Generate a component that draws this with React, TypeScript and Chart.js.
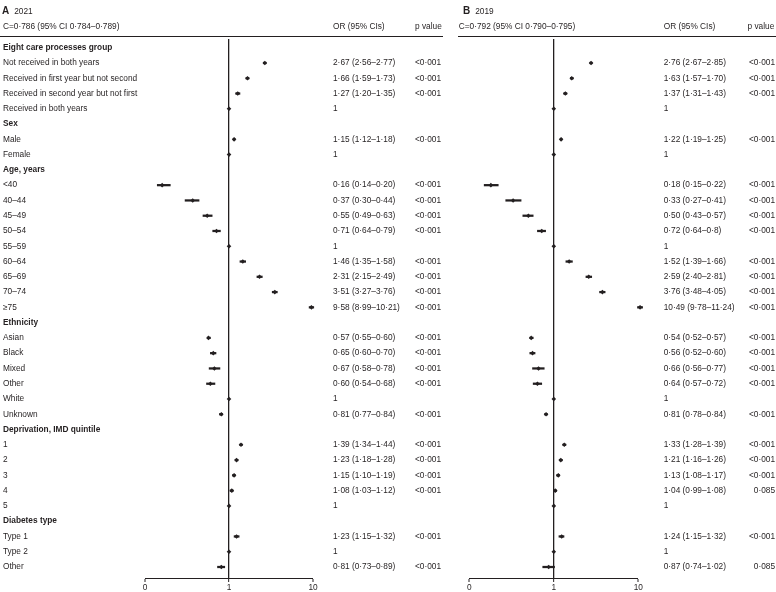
import React, { useEffect, useRef } from 'react';
import { Chart, registerables } from 'chart.js';

Chart.register(...registerables);

const FONT_FAMILY = "'Liberation Sans', Arial, sans-serif";
const FONT_SIZE = 8.3;
const INK = '#231f20';

const rowLabels = [
  'Eight care processes group',
  'Not received in both years',
  'Received in first year but not second',
  'Received in second year but not first',
  'Received in both years',
  'Sex',
  'Male',
  'Female',
  'Age, years',
  '<40',
  '40–44',
  '45–49',
  '50–54',
  '55–59',
  '60–64',
  '65–69',
  '70–74',
  '≥75',
  'Ethnicity',
  'Asian',
  'Black',
  'Mixed',
  'Other',
  'White',
  'Unknown',
  'Deprivation, IMD quintile',
  '1',
  '2',
  '3',
  '4',
  '5',
  'Diabetes type',
  'Type 1',
  'Type 2',
  'Other',
];

const headerRows = [0, 5, 8, 18, 25, 31];

// 2021 (panel A)
const or2021 = [null, 2.67, 1.66, 1.27, 1, null, 1.15, 1, null, 0.16, 0.37, 0.55, 0.71, 1, 1.46, 2.31, 3.51, 9.58, null, 0.57, 0.65, 0.67, 0.60, 1, 0.81, null, 1.39, 1.23, 1.15, 1.08, 1, null, 1.23, 1, 0.81];
const lo2021 = [null, 2.56, 1.59, 1.20, null, null, 1.12, null, null, 0.14, 0.30, 0.49, 0.64, null, 1.35, 2.15, 3.27, 8.99, null, 0.55, 0.60, 0.58, 0.54, null, 0.77, null, 1.34, 1.18, 1.10, 1.03, null, null, 1.15, null, 0.73];
const hi2021 = [null, 2.77, 1.73, 1.35, null, null, 1.18, null, null, 0.20, 0.44, 0.63, 0.79, null, 1.58, 2.49, 3.76, 10.21, null, 0.60, 0.70, 0.78, 0.68, null, 0.84, null, 1.44, 1.28, 1.19, 1.12, null, null, 1.32, null, 0.89];
const orText2021 = ['', '2·67 (2·56–2·77)', '1·66 (1·59–1·73)', '1·27 (1·20–1·35)', '1', '', '1·15 (1·12–1·18)', '1', '', '0·16 (0·14–0·20)', '0·37 (0·30–0·44)', '0·55 (0·49–0·63)', '0·71 (0·64–0·79)', '1', '1·46 (1·35–1·58)', '2·31 (2·15–2·49)', '3·51 (3·27–3·76)', '9·58 (8·99–10·21)', '', '0·57 (0·55–0·60)', '0·65 (0·60–0·70)', '0·67 (0·58–0·78)', '0·60 (0·54–0·68)', '1', '0·81 (0·77–0·84)', '', '1·39 (1·34–1·44)', '1·23 (1·18–1·28)', '1·15 (1·10–1·19)', '1·08 (1·03–1·12)', '1', '', '1·23 (1·15–1·32)', '1', '0·81 (0·73–0·89)'];
const pText2021 = ['', '<0·001', '<0·001', '<0·001', '', '', '<0·001', '', '', '<0·001', '<0·001', '<0·001', '<0·001', '', '<0·001', '<0·001', '<0·001', '<0·001', '', '<0·001', '<0·001', '<0·001', '<0·001', '', '<0·001', '', '<0·001', '<0·001', '<0·001', '<0·001', '', '', '<0·001', '', '<0·001'];

// 2019 (panel B)
const or2019 = [null, 2.76, 1.63, 1.37, 1, null, 1.22, 1, null, 0.18, 0.33, 0.50, 0.72, 1, 1.52, 2.59, 3.76, 10.49, null, 0.54, 0.56, 0.66, 0.64, 1, 0.81, null, 1.33, 1.21, 1.13, 1.04, 1, null, 1.24, 1, 0.87];
const lo2019 = [null, 2.67, 1.57, 1.31, null, null, 1.19, null, null, 0.15, 0.27, 0.43, 0.64, null, 1.39, 2.40, 3.48, 9.78, null, 0.52, 0.52, 0.56, 0.57, null, 0.78, null, 1.28, 1.16, 1.08, 0.99, null, null, 1.15, null, 0.74];
const hi2019 = [null, 2.85, 1.70, 1.43, null, null, 1.25, null, null, 0.22, 0.41, 0.57, 0.8, null, 1.66, 2.81, 4.05, 11.24, null, 0.57, 0.60, 0.77, 0.72, null, 0.84, null, 1.39, 1.26, 1.17, 1.08, null, null, 1.32, null, 1.02];
const orText2019 = ['', '2·76 (2·67–2·85)', '1·63 (1·57–1·70)', '1·37 (1·31–1·43)', '1', '', '1·22 (1·19–1·25)', '1', '', '0·18 (0·15–0·22)', '0·33 (0·27–0·41)', '0·50 (0·43–0·57)', '0·72 (0·64–0·8)', '1', '1·52 (1·39–1·66)', '2·59 (2·40–2·81)', '3·76 (3·48–4·05)', '10·49 (9·78–11·24)', '', '0·54 (0·52–0·57)', '0·56 (0·52–0·60)', '0·66 (0·56–0·77)', '0·64 (0·57–0·72)', '1', '0·81 (0·78–0·84)', '', '1·33 (1·28–1·39)', '1·21 (1·16–1·26)', '1·13 (1·08–1·17)', '1·04 (0·99–1·08)', '1', '', '1·24 (1·15–1·32)', '1', '0·87 (0·74–1·02)'];
const pText2019 = ['', '<0·001', '<0·001', '<0·001', '', '', '<0·001', '', '', '<0·001', '<0·001', '<0·001', '<0·001', '', '<0·001', '<0·001', '<0·001', '<0·001', '', '<0·001', '<0·001', '<0·001', '<0·001', '', '<0·001', '', '<0·001', '<0·001', '<0·001', '0·085', '', '', '<0·001', '', '0·085'];

const xTickValues = [0.1, 1, 10];
const xTickLabels = ['0', '1', '10'];

type PanelSpec = {
  letter: string;
  year: string;
  cText: string;
  or: (number | null)[];
  lo: (number | null)[];
  hi: (number | null)[];
  orText: string[];
  pText: string[];
  showLabels: boolean;
  canvasWidth: number;
  padLeft: number;
  padRight: number;
  yWidth: number;
  orWidth: number;
  orPad: number;
  pWidth: number;
  pAlign: 'near' | 'far';
  letterX: number;
  textX: number;
  ruleStart: number;
  ruleEnd: number;
};

const Y_MIN = -0.57;
const Y_MAX = 34.72;

const font = (bold = false) => ({ family: FONT_FAMILY, size: FONT_SIZE, weight: bold ? 'bold' : 'normal' } as any);

const headerPlugin = {
  id: 'panelHeader',
  afterDraw(chart: any, _args: any, opts: any) {
    const ctx = chart.ctx;
    ctx.save();
    ctx.fillStyle = INK;
    ctx.textBaseline = 'middle';
    ctx.textAlign = 'left';
    ctx.font = `bold ${FONT_SIZE + 1.7}px ${FONT_FAMILY}`;
    ctx.fillText(opts.letter, opts.letterX, 11);
    const lw = ctx.measureText(opts.letter).width;
    ctx.font = `${FONT_SIZE}px ${FONT_FAMILY}`;
    ctx.fillText(opts.year, opts.letterX + lw + 5, 11.5);
    ctx.fillText(opts.cText, opts.textX, 27);
    const orScale = chart.scales.yOR;
    const pScale = chart.scales.yP;
    ctx.fillText('OR (95% CIs)', orScale.left + opts.orPad, 27);
    ctx.fillText('p value', pScale.left + opts.pHeadPad, 27);
    ctx.strokeStyle = INK;
    ctx.lineWidth = 1;
    ctx.beginPath();
    ctx.moveTo(opts.ruleStart, 36.5);
    ctx.lineTo(opts.ruleEnd, 36.5);
    ctx.stroke();
    ctx.restore();
  },
};

function buildConfig(p: PanelSpec): any {
  const rowTicks = (scale: any) => {
    scale.ticks = rowLabels.map((_, i) => ({ value: i }));
  };
  const noVerticalPadding = (s: any) => {
    s.paddingTop = 0;
    s.paddingBottom = 0;
  };
  const points = p.or
    .map((v, i) => (v == null ? null : { x: v, y: i }))
    .filter((d) => d !== null);
  const bars = p.lo
    .map((v, i) => (v == null || p.hi[i] == null ? null : { x: [v, p.hi[i]], y: i }))
    .filter((d) => d !== null);
  const sideAxis = (texts: string[], width: number, pad: number, align: 'near' | 'far', weight: number) => ({
    type: 'linear',
    position: 'right',
    weight,
    min: Y_MIN,
    max: Y_MAX,
    reverse: true,
    offset: false,
    grid: { display: false, drawTicks: false, offset: false },
    border: { display: false },
    afterBuildTicks: rowTicks,
    afterFit: (s: any) => {
      s.width = width;
      noVerticalPadding(s);
    },
    ticks: {
      autoSkip: false,
      padding: pad,
      crossAlign: align,
      color: INK,
      font: font(false),
      callback: (v: number) => texts[Math.round(v)] ?? '',
    },
  });
  return {
    type: 'bar',
    data: {
      datasets: [
        {
          type: 'line',
          label: 'OR',
          indexAxis: 'y',
          data: points,
          showLine: false,
          pointStyle: 'rectRot',
          pointRadius: 2.3,
          pointBorderWidth: 0,
          pointBackgroundColor: INK,
          pointBorderColor: INK,
          borderColor: INK,
          backgroundColor: INK,
          clip: false,
          order: 0,
          xAxisID: 'x',
          yAxisID: 'y',
        },
        {
          type: 'bar',
          label: '95% CI',
          indexAxis: 'y',
          data: bars,
          barThickness: 1.6,
          backgroundColor: INK,
          borderWidth: 0,
          clip: false,
          order: 1,
          xAxisID: 'x',
          yAxisID: 'y',
        },
      ],
    },
    options: {
      indexAxis: 'y',
      animation: false,
      responsive: false,
      maintainAspectRatio: false,
      devicePixelRatio: 1,
      layout: { padding: { left: p.padLeft, right: p.padRight, top: 39, bottom: 0 } },
      plugins: {
        legend: { display: false },
        tooltip: { enabled: false },
        panelHeader: {
          letter: p.letter,
          year: p.year,
          cText: p.cText,
          letterX: p.letterX,
          textX: p.textX,
          orPad: p.orPad,
          pHeadPad: p.pAlign === 'near' ? 0 : 1,
          ruleStart: p.ruleStart,
          ruleEnd: p.ruleEnd,
        },
      },
      scales: {
        x: {
          type: 'logarithmic',
          position: 'bottom',
          min: 0.1,
          max: 10,
          offset: false,
          afterBuildTicks: (s: any) => {
            s.ticks = xTickValues.map((v) => ({ value: v }));
          },
          afterFit: (s: any) => {
            s.height = 14;
          },
          border: { display: true, color: INK, width: 1 },
          grid: {
            offset: false,
            drawOnChartArea: true,
            drawTicks: true,
            tickLength: 4,
            tickWidth: 1,
            tickColor: INK,
            color: (c: any) => (c.tick && c.tick.value === 1 ? INK : 'rgba(0,0,0,0)'),
            lineWidth: (c: any) => (c.tick && c.tick.value === 1 ? 1.3 : 0),
          },
          ticks: {
            autoSkip: false,
            maxRotation: 0,
            padding: 1,
            color: INK,
            font: font(false),
            callback: (_v: number, i: number) => xTickLabels[i],
          },
        },
        y: {
          type: 'linear',
          position: 'left',
          display: p.showLabels,
          min: Y_MIN,
          max: Y_MAX,
          reverse: true,
          offset: false,
          grid: { display: false, drawTicks: false, offset: false },
          border: { display: false },
          afterBuildTicks: rowTicks,
          afterFit: (s: any) => {
            s.width = p.yWidth;
            noVerticalPadding(s);
          },
          ticks: {
            autoSkip: false,
            crossAlign: 'far',
            padding: 0,
            color: INK,
            font: (c: any) => font(c.tick ? headerRows.includes(Math.round(c.tick.value)) : false),
            callback: (v: number) => rowLabels[Math.round(v)] ?? '',
          },
        },
        yOR: sideAxis(p.orText, p.orWidth, p.orPad, 'near', 1),
        yP: sideAxis(p.pText, p.pWidth, 0, p.pAlign, 2),
      },
    },
    plugins: [headerPlugin],
  };
}

const panelA: PanelSpec = {
  letter: 'A',
  year: '2021',
  cText: 'C=0·786 (95% CI 0·784–0·789)',
  or: or2021,
  lo: lo2021,
  hi: hi2021,
  orText: orText2021,
  pText: pText2021,
  showLabels: true,
  canvasWidth: 450,
  padLeft: 3,
  padRight: 0,
  yWidth: 142,
  orWidth: 102,
  orPad: 20,
  pWidth: 35,
  pAlign: 'near',
  letterX: 2,
  textX: 3,
  ruleStart: 0,
  ruleEnd: 443,
};

const panelB: PanelSpec = {
  letter: 'B',
  year: '2019',
  cText: 'C=0·792 (95% CI 0·790–0·795)',
  or: or2019,
  lo: lo2019,
  hi: hi2019,
  orText: orText2019,
  pText: pText2019,
  showLabels: false,
  canvasWidth: 326,
  padLeft: 19.3,
  padRight: 1,
  yWidth: 0,
  orWidth: 108.2,
  orPad: 25.4,
  pWidth: 28.5,
  pAlign: 'far',
  letterX: 13,
  textX: 8.7,
  ruleStart: 8,
  ruleEnd: 326,
};

function Panel({ spec, left }: { spec: PanelSpec; left: number }) {
  const ref = useRef<HTMLCanvasElement | null>(null);
  useEffect(() => {
    if (!ref.current) return;
    const chart = new Chart(ref.current, buildConfig(spec));
    return () => chart.destroy();
  }, [spec]);
  return (
    <canvas
      ref={ref}
      width={spec.canvasWidth}
      height={592}
      style={{ position: 'absolute', left, top: 0, width: spec.canvasWidth, height: 592 }}
    />
  );
}

export default function App() {
  return (
    <div style={{ position: 'fixed', left: 0, top: 0, width: 776, height: 592, background: '#ffffff', overflow: 'hidden' }}>
      <Panel spec={panelA} left={0} />
      <Panel spec={panelB} left={450} />
    </div>
  );
}
